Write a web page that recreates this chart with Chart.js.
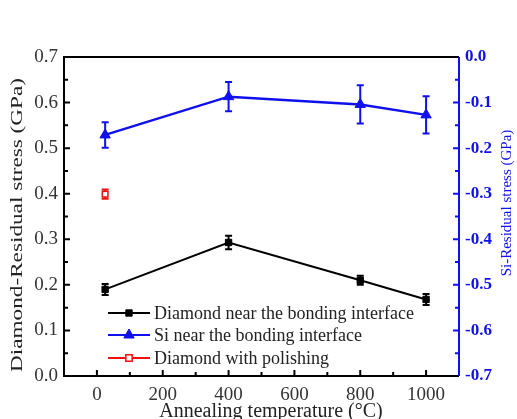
<!DOCTYPE html>
<html>
<head>
<meta charset="utf-8">
<script src="https://cdn.jsdelivr.net/npm/chart.js@4.4.1/dist/chart.umd.min.js"></script>
<style>
  html, body { margin: 0; padding: 0; background: #fff; }
  #wrap { width: 517px; height: 419px; }
</style>
</head>
<body>
<div id="wrap"><canvas id="c"></canvas></div>
<script>
// data
const temps = [25, 400, 800, 1000];
const diamond = [0.19, 0.293, 0.21, 0.168];
const diamondErr = [0.012, 0.015, 0.01, 0.012];
const si = [-0.171, -0.087, -0.104, -0.127];
const siErr = [0.028, 0.032, 0.042, 0.041];
const polishedTemp = [25];
const polished = [0.399];
const polishedErr = [0.01];

const xTicks = [0, 200, 400, 600, 800, 1000];
const yLeftTicks = [0, 0.1, 0.2, 0.3, 0.4, 0.5, 0.6, 0.7];
const yRightTicks = [-0.7, -0.6, -0.5, -0.4, -0.3, -0.2, -0.1, 0];

const xTitle = "Annealing temperature (°C)";
const yLeftTitle = "Diamond-Residual stress (GPa)";
const yRightTitle = "Si-Residual stress (GPa)";

const BLUE = "#1010ee";
const SERIF = "'Liberation Serif', 'DejaVu Serif', serif";

const toPts = (xs, ys, es) => xs.map((x, i) => ({ x: x, y: ys[i], err: es[i] }));

// error bars, inward ticks, frame, titles and legend
const decor = {
  id: "decor",
  beforeDatasetsDraw(chart) {
    const { ctx, scales } = chart;
    ctx.save();
    chart.data.datasets.forEach(ds => {
      const y = scales[ds.yAxisID];
      ctx.strokeStyle = ds.borderColor;
      ctx.lineWidth = 2;
      ds.data.forEach(p => {
        const px = scales.x.getPixelForValue(p.x);
        const top = y.getPixelForValue(p.y + p.err);
        const bot = y.getPixelForValue(p.y - p.err);
        ctx.beginPath();
        ctx.moveTo(px, top); ctx.lineTo(px, bot);
        ctx.moveTo(px - 3.5, top); ctx.lineTo(px + 3.5, top);
        ctx.moveTo(px - 3.5, bot); ctx.lineTo(px + 3.5, bot);
        ctx.stroke();
      });
    });
    ctx.restore();
  },
  afterDraw(chart) {
    const { ctx, chartArea: a, scales } = chart;
    ctx.save();
    ctx.lineWidth = 2;
    // ticks point into the plot
    ctx.strokeStyle = "#000";
    ctx.beginPath();
    for (let v = -100; v <= 1100; v += 100) {
      const px = scales.x.getPixelForValue(v);
      const len = v % 200 === 0 ? 6 : 4;
      if (px <= a.left + 1 || px >= a.right - 1) continue;
      ctx.moveTo(px, a.bottom); ctx.lineTo(px, a.bottom - len);
    }
    for (let i = 0; i <= 14; i++) {
      const py = scales.y.getPixelForValue(i * 0.05);
      ctx.moveTo(a.left, py); ctx.lineTo(a.left + (i % 2 === 0 ? 6 : 4), py);
    }
    ctx.stroke();
    ctx.strokeStyle = BLUE;
    ctx.beginPath();
    for (let i = 0; i <= 14; i++) {
      const py = scales.y2.getPixelForValue(-i * 0.05);
      ctx.moveTo(a.right, py); ctx.lineTo(a.right - (i % 2 === 0 ? 6 : 4), py);
    }
    ctx.stroke();
    // frame
    ctx.strokeStyle = "#000";
    ctx.beginPath();
    ctx.moveTo(a.right, a.top); ctx.lineTo(a.left, a.top);
    ctx.lineTo(a.left, a.bottom); ctx.lineTo(a.right, a.bottom);
    ctx.stroke();
    ctx.strokeStyle = BLUE;
    ctx.beginPath();
    ctx.moveTo(a.right, a.top); ctx.lineTo(a.right, a.bottom);
    ctx.stroke();

    // axis titles
    ctx.textAlign = "center";
    ctx.textBaseline = "middle";
    ctx.fillStyle = "#222";
    ctx.font = "20px " + SERIF;
    ctx.fillText(xTitle, 271, 412);

    ctx.font = "17px " + SERIF;
    ctx.save();
    ctx.translate(18, 225);
    ctx.rotate(-Math.PI / 2);
    const lw = ctx.measureText(yLeftTitle).width;
    ctx.scale(294 / lw, 1);
    ctx.fillText(yLeftTitle, 0, 0);
    ctx.restore();

    ctx.fillStyle = BLUE;
    ctx.font = "15px " + SERIF;
    ctx.save();
    ctx.translate(507, 203);
    ctx.rotate(-Math.PI / 2);
    ctx.fillText(yRightTitle, 0, 0);
    ctx.restore();

    // legend
    const rows = [313, 335, 358];
    ctx.font = "18px " + SERIF;
    ctx.textAlign = "left";
    chart.data.datasets.forEach((ds, i) => {
      const y = rows[i];
      ctx.strokeStyle = ds.borderColor;
      ctx.lineWidth = 2;
      ctx.beginPath(); ctx.moveTo(108, y); ctx.lineTo(150, y); ctx.stroke();
      ctx.fillStyle = ds.backgroundColor;
      ctx.lineWidth = ds.pointBorderWidth;
      Chart.helpers.drawPoint(ctx, {
        pointStyle: ds.pointStyle, radius: Math.max(ds.pointRadius, 4.5), borderWidth: ds.pointBorderWidth
      }, 129, y);
      ctx.fillStyle = "#222";
      ctx.fillText(ds.label, 154, y + 1);
    });
    ctx.restore();
  }
};

const ctx = document.getElementById("c").getContext("2d");
new Chart(ctx, {
  type: "line",
  data: {
    datasets: [
      {
        label: "Diamond near the bonding interface",
        data: toPts(temps, diamond, diamondErr),
        yAxisID: "y",
        borderColor: "#000",
        backgroundColor: "#000",
        borderWidth: 2,
        pointStyle: "rect",
        pointRadius: 4.5,
        pointBorderWidth: 1
      },
      {
        label: "Si near the bonding interface",
        data: toPts(temps, si, siErr),
        yAxisID: "y2",
        borderColor: BLUE,
        backgroundColor: BLUE,
        borderWidth: 2.5,
        pointStyle: "triangle",
        pointRadius: 6,
        pointBorderWidth: 1
      },
      {
        label: "Diamond with polishing",
        data: toPts(polishedTemp, polished, polishedErr),
        yAxisID: "y",
        borderColor: "#ee1111",
        backgroundColor: "#fff",
        borderWidth: 2,
        pointStyle: "rect",
        pointRadius: 4,
        pointBorderWidth: 1.5
      }
    ]
  },
  options: {
    responsive: true,
    maintainAspectRatio: false,
    animation: false,
    layout: { padding: { top: 57, right: 0, left: 0, bottom: 0 } },
    plugins: { legend: { display: false }, tooltip: { enabled: false } },
    scales: {
      x: {
        type: "linear",
        min: -100,
        max: 1100,
        afterBuildTicks: s => { s.ticks = xTicks.map(v => ({ value: v })); },
        afterFit: s => { s.height = 43; },
        grid: { display: false, drawTicks: false },
        border: { display: false },
        ticks: { padding: 8, color: "#333", font: { family: SERIF, size: 19 }, callback: v => String(v) }
      },
      y: {
        position: "left",
        min: 0,
        max: 0.7,
        afterBuildTicks: s => { s.ticks = yLeftTicks.map(v => ({ value: v })); },
        afterFit: s => { s.width = 64; },
        grid: { display: false, drawTicks: false },
        border: { display: false },
        ticks: { padding: 6, color: "#333", font: { family: SERIF, size: 19 }, callback: v => v.toFixed(1) }
      },
      y2: {
        position: "right",
        min: -0.7,
        max: 0,
        afterBuildTicks: s => { s.ticks = yRightTicks.map(v => ({ value: v })); },
        afterFit: s => { s.width = 58; },
        grid: { display: false, drawTicks: false },
        border: { display: false },
        ticks: { padding: 6, color: BLUE, font: { family: SERIF, size: 17, weight: "bold" }, callback: v => v.toFixed(1) }
      }
    }
  },
  plugins: [decor]
});
</script>
</body>
</html>
